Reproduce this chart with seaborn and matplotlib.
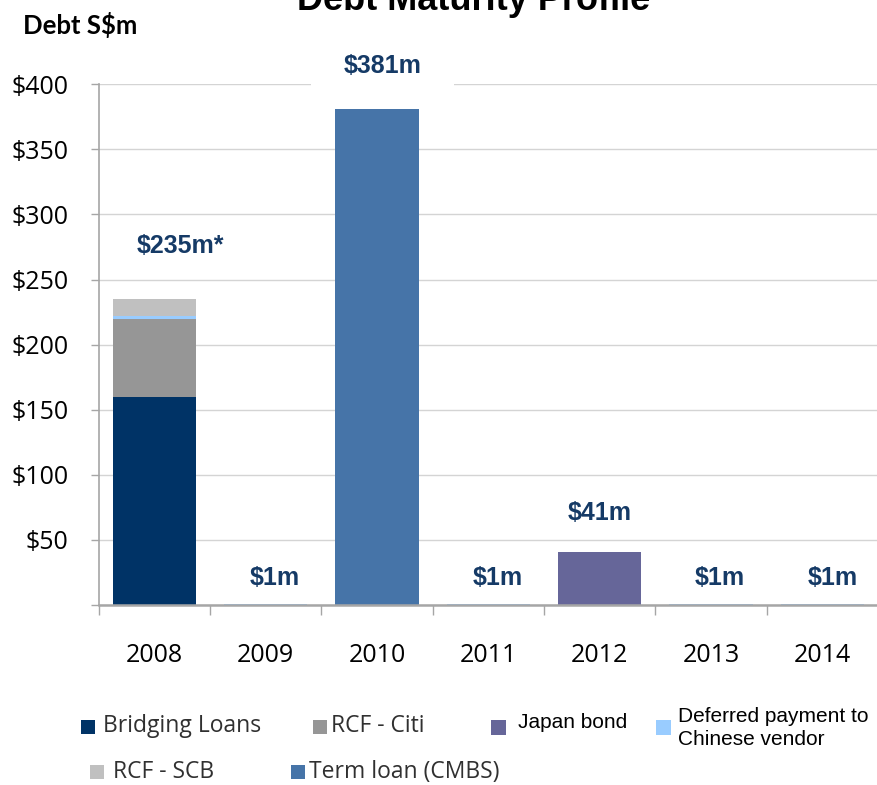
import matplotlib
matplotlib.use("Agg")
import matplotlib.pyplot as plt
from matplotlib.patches import Rectangle
from matplotlib.ticker import FixedLocator
import numpy as np
import seaborn as sns

# ---- data (S$ millions maturing per year) ----
years = ["2008", "2009", "2010", "2011", "2012", "2013", "2014"]
bridging_loans = [160, 0, 0, 0, 0, 0, 0]
rcf_citi = [60, 0, 0, 0, 0, 0, 0]
deferred_payment = [2, 1, 0, 1, 0, 1, 1]
rcf_scb = [13, 0, 0, 0, 0, 0, 0]
term_loan_cmbs = [0, 0, 381, 0, 0, 0, 0]
japan_bond = [0, 0, 0, 0, 41, 0, 0]
footnote_marks = ["*", "", "", "", "", "", ""]

y_ticks = [0, 50, 100, 150, 200, 250, 300, 350, 400]
y_tick_labels = ["", "$50", "$100", "$150", "$200", "$250", "$300", "$350", "$400"]

series_names = ["Bridging Loans", "RCF - Citi", "Deferred payment to\nChinese vendor",
                "RCF - SCB", "Term loan (CMBS)", "Japan bond"]
series_values = [bridging_loans, rcf_citi, deferred_payment, rcf_scb, term_loan_cmbs, japan_bond]

# ---- styling ----
colors = {
    "Bridging Loans": "#003366",
    "RCF - Citi": "#969696",
    "Deferred payment to\nChinese vendor": "#99CCFF",
    "RCF - SCB": "#C0C0C0",
    "Term loan (CMBS)": "#4674A8",
    "Japan bond": "#666699",
}
label_color = "#153A66"
axis_gray = "#A6A6A6"

# where each total label sits (x offset from category centre, y in S$m)
label_dx = [0.23, 0.08, 0.05, 0.08, 0.0, 0.08, 0.09]
label_y = [276, 21, 414, 21, 70.5, 21, 21]

sns.set_theme(style="white")
plt.rcParams["font.family"] = ["Open Sans", "DejaVu Sans"]

W, H = 878, 785
fig = plt.figure(figsize=(W / 100, H / 100), dpi=100)
fig.patch.set_facecolor("white")


def fx(px):
    return px / W


def fy(py):
    return 1 - py / H


ax = fig.add_axes([fx(98.7), fy(605), 1 - fx(98.7), (605 - 84.3) / H])

# stacked bars: draw cumulative heights from the top layer down
stack = np.array(series_values, dtype=float)
cum = np.cumsum(stack, axis=0)
for k in reversed(range(len(series_names))):
    sns.barplot(x=years, y=cum[k], order=years, color=colors[series_names[k]],
                saturation=1, width=0.75, linewidth=0, errorbar=None, ax=ax, zorder=2)

totals = stack.sum(axis=0)

ax.set_xlim(-0.5, 6.5)
ax.set_ylim(0, 400)
ax.set_xlabel("")
ax.set_ylabel("")
ax.set_yticks(y_ticks)
ax.set_yticklabels(y_tick_labels)
ax.yaxis.grid(True, color="#D4D4D4", linewidth=1)
ax.xaxis.grid(False)
ax.set_axisbelow(True)
for s in ["top", "right"]:
    ax.spines[s].set_visible(False)
for s in ["left", "bottom"]:
    ax.spines[s].set_color(axis_gray)
    ax.spines[s].set_linewidth(1.2)
ax.spines["bottom"].set_linewidth(1.8)
ax.spines["bottom"].set_zorder(2.6)

ax.tick_params(axis="y", left=True, length=6, width=1, color=axis_gray, pad=16,
               labelsize=18, labelcolor="black")
ax.tick_params(axis="x", which="major", bottom=True, length=0, pad=27,
               labelsize=18, labelcolor="black")
ax.xaxis.set_minor_locator(FixedLocator(np.arange(-0.5, 7, 1)))
ax.tick_params(axis="x", which="minor", bottom=True, length=7, width=1, color=axis_gray)

# total labels above each year
for i, (t, mark) in enumerate(zip(totals, footnote_marks)):
    txt = f"${t:.0f}m{mark}"
    kw = {}
    if years[i] == "2010":
        kw["bbox"] = dict(boxstyle="square,pad=1.3", fc="white", ec="none")
    ax.text(i + label_dx[i], label_y[i], txt, ha="center", va="center",
            fontsize=18, fontweight="bold", color=label_color,
            family=["Liberation Sans", "DejaVu Sans"], clip_on=False, zorder=1.5, **kw)

# title and unit caption
fig.text(fx(474), fy(10), "Debt Maturity Profile", ha="center", va="baseline",
         fontsize=26, fontweight="bold", color="black",
         family=["Liberation Sans", "DejaVu Sans"])
fig.text(fx(23), fy(34), "Debt S$m", ha="left", va="baseline",
         fontsize=18.5, fontweight="bold", color="black", family=["Lato", "DejaVu Sans"])


# legend
def legend_item(sq_x, sq_y, size, name, tx, ty, family, fontsize, tcolor, linespacing=1.0):
    fig.patches.append(Rectangle((fx(sq_x), fy(sq_y + size)), size / W, size / H,
                                 transform=fig.transFigure, facecolor=colors[name],
                                 edgecolor="none"))
    fig.text(fx(tx), fy(ty), name, ha="left", va="center", fontsize=fontsize,
             color=tcolor, family=family, linespacing=linespacing)


calibri_like = ["Open Sans", "DejaVu Sans"]
arial_like = ["Liberation Sans", "DejaVu Sans"]
legend_item(81, 720, 14, "Bridging Loans", 103, 726, calibri_like, 16.5, "#303030")
legend_item(313, 720, 14, "RCF - Citi", 331, 726, calibri_like, 16.5, "#303030")
legend_item(491, 720, 15, "Japan bond", 518, 723, arial_like, 15, "black")
legend_item(656, 720, 15, "Deferred payment to\nChinese vendor", 678, 728, arial_like, 15,
            "black", linespacing=1.25)
legend_item(90, 765, 14, "RCF - SCB", 113, 772, calibri_like, 16.5, "#303030")
legend_item(291, 765, 14, "Term loan (CMBS)", 309, 772, calibri_like, 16.5, "#303030")

fig.savefig("out.png", dpi=100, facecolor="white")
